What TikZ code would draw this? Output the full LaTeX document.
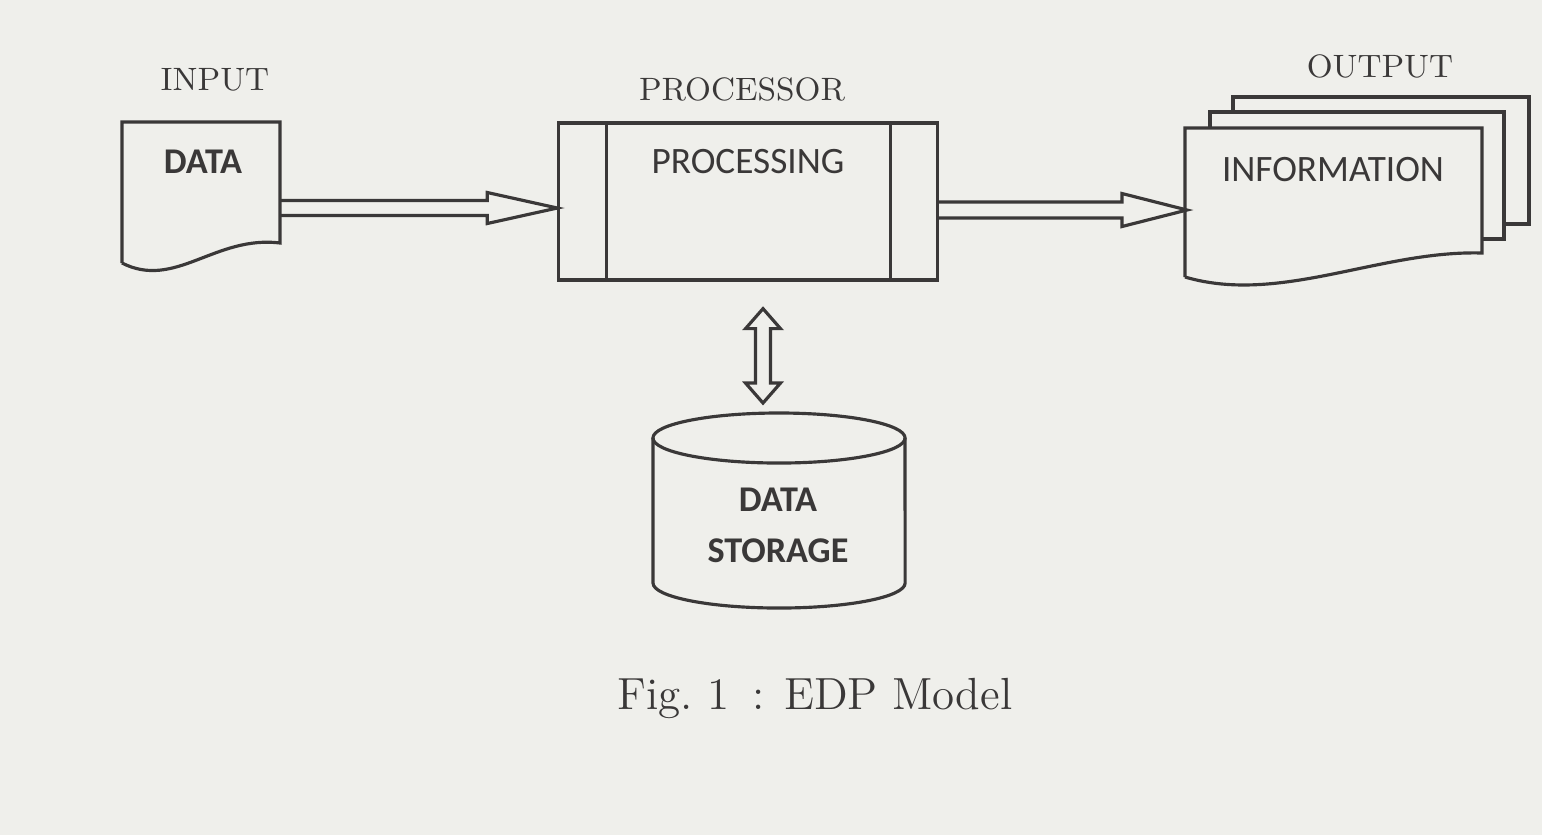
\documentclass[tikz,border=0pt]{standalone}
\usepackage{fontspec}
\newfontfamily\calibri{Carlito}
\usetikzlibrary{calc}
\definecolor{paper}{RGB}{239,239,235}
\definecolor{ink}{RGB}{58,56,56}
\def\fatarrow[#1](#2)(#3)(#4:#5:#6){\coordinate (fa-h) at ($(#3)!#6!(#2)$);
	\draw[#1] ($(#2)!#4!90:(#3)$) -- ($(fa-h)!#4!90:(#3)$) -- ($(fa-h)!#5!90:(#3)$) -- (#3) -- ($(fa-h)!#5!-90:(#3)$) -- ($(fa-h)!#4!-90:(#3)$) -- ($(#2)!#4!-90:(#3)$);}
\def\twinarrow[#1](#2)(#3)(#4:#5:#6){\coordinate (fa-a) at ($(#2)!#6!(#3)$); \coordinate (fa-b) at ($(#3)!#6!(#2)$);
	\draw[#1] (#2) -- ($(fa-a)!#5!90:(#3)$) -- ($(fa-a)!#4!90:(#3)$) -- ($(fa-b)!#4!-90:(#2)$) -- ($(fa-b)!#5!-90:(#2)$) -- (#3) -- ($(fa-b)!#5!90:(#2)$) -- ($(fa-b)!#4!90:(#2)$) -- ($(fa-a)!#4!-90:(#3)$) -- ($(fa-a)!#5!-90:(#3)$) -- cycle;}

\begin{document}
\begin{tikzpicture}[x=0.01cm, y=-0.01cm,
	line/.style={draw=ink, line width=0.9pt, line join=miter},
	head/.style={text=ink, font=\fontsize{9.2}{11}\selectfont, inner sep=0pt},
	tag/.style={text=ink, font=\calibri\fontsize{10.6}{13}\selectfont, inner sep=0pt},
	boldtag/.style={tag, font=\calibri\bfseries\fontsize{10.3}{14.5}\selectfont, align=center}]
			%%%%% START %%%%%
			
			\fill[paper] (0, 0) rectangle (1542, 835);
			
			% input document
			\node[head] (input) at (215, 80) {INPUT};
			\draw[line] (122, 263) -- (122, 122) -- (280, 122) -- (280, 243) .. controls (215, 235) and (175, 290) .. (122, 263);
			\node[boldtag] (data) at (203, 162) {DATA};
			\coordinate (dataR) at (280, 208);
			
			% processor
			\node[head] (processor) at (742, 89) {PROCESSOR};
			\node[line, minimum width=3.78cm, minimum height=1.57cm, inner sep=0pt] (proc) at (748, 201.5) {};
			\draw[line] ([xshift=0.49cm]proc.north west) -- ([xshift=0.49cm]proc.south west);
			\draw[line] ([xshift=-0.48cm]proc.north east) -- ([xshift=-0.48cm]proc.south east);
			\node[tag] (processing) at (748, 162) {PROCESSING};
			\coordinate (procL) at (proc.west |- dataR);
			\coordinate (procR) at (proc.east |- 0, 210);
			\coordinate (procS) at ($(proc.south)+(15, 27)$);
			
			% output documents
			\node[head] (output) at (1380, 66) {OUTPUT};
			\draw[line] (1504, 224) -- (1529, 224) -- (1529, 97) -- (1233, 97) -- (1233, 112);
			\draw[line] (1482, 239) -- (1504, 239) -- (1504, 112) -- (1210, 112) -- (1210, 128);
			\draw[line] (1185, 277) -- (1185, 128) -- (1482, 128) -- (1482, 253) .. controls (1380, 250) and (1280, 305) .. (1185, 277);
			\node[tag] (info) at (1333, 170) {INFORMATION};
			\coordinate (infoL) at (1187, 210);
			
			% storage
			\coordinate (cylTop) at (779, 413);
			\draw[line] (779, 438) ellipse [x radius=1.26cm, y radius=0.25cm];
			\draw[line] (653, 438) -- (653, 583) arc[start angle=180, end angle=360, x radius=1.26cm, y radius=0.25cm] -- (905, 438);
			\node[boldtag] (store) at (778, 525) {DATA\\STORAGE};
			\coordinate (storeN) at ($(cylTop)+(-16, -10)$);
			
			% arrows
			\fatarrow[line](dataR)(procL)(0.075cm:0.155cm:0.7cm)
			\fatarrow[line](procR)(infoL)(0.08cm:0.165cm:0.65cm)
			\twinarrow[line](procS)(storeN)(0.075cm:0.175cm:0.2cm)
			
			\node[head, font=\fontsize{12.8}{15}\selectfont] (caption) at (815, 698) {Fig.\ 1\enspace: EDP Model};
			
			%%%%% END %%%%%
		\end{tikzpicture}
\end{document}
